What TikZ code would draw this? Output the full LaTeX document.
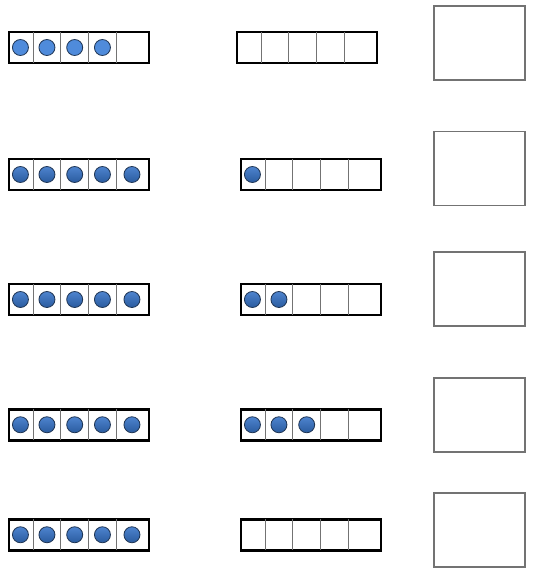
\documentclass[tikz,border=0pt]{standalone}
\usepackage{xcolor}
\usepackage{tikz}
\usetikzlibrary{shapes,positioning,shadows}

\definecolor{counterflat}{HTML}{4F8BDB}
\definecolor{countertop}{HTML}{4E84CF}
\definecolor{counterbot}{HTML}{2A5B9E}
\definecolor{counterline}{HTML}{1F3554}

\begin{document}
\begin{tikzpicture}[
    x=1pt, y=-1pt,
    frame/.style={rectangle, draw=black, line width=2.6pt, fill=white, minimum width=140pt, minimum height=31pt, inner sep=0pt},
    cellline/.style={draw=black!55, line width=0.9pt, shorten <=1.3pt, shorten >=1.3pt},
    dot/.style={circle, draw=counterline, line width=0.8pt, minimum size=16pt, inner sep=0pt},
    counter/.style={dot, top color=countertop, bottom color=counterbot},
    flatcounter/.style={dot, fill=counterflat},
    answerbox/.style={rectangle, draw=black!55, line width=1.2pt, fill=white, minimum width=91pt, minimum height=74pt, inner sep=0pt, drop shadow={opacity=0.12, shadow xshift=0.6pt, shadow yshift=-0.8pt}}
]
    \useasboundingbox (0,0) rectangle (535,573);

    % Ten frames, left column
    \node[frame] (left1) at (79,47.5) {};
    \node[frame] (left2) at (79,174.5) {};
    \node[frame] (left3) at (79,299.5) {};
    \node[frame] (left4) at (79,424.75) {};
    \node[frame] (left5) at (79,534.75) {};

    % Ten frames, middle column
    \node[frame] (mid1) at (307,47.5) {};
    \node[frame] (mid2) at (311,174.5) {};
    \node[frame] (mid3) at (311,299.5) {};
    \node[frame] (mid4) at (311,424.75) {};
    \node[frame] (mid5) at (311,534.75) {};

    % Cell dividers
    \foreach \f in {left1,left2,left3,left4,left5,mid1,mid2,mid3,mid4,mid5}
        \foreach \d in {25.5,53,81,108.5}
            \draw[cellline] ([xshift=\d pt]\f.north west) -- ([xshift=\d pt]\f.south west);

    % Counters, left column
    \foreach \x [count=\i] in {12.75,39.25,67,94.75}
        \node[flatcounter] (l1c\i) at ([xshift=\x pt]left1.west) {};
    \foreach \x [count=\i] in {12.75,39.25,67,94.75,124.25} {
        \node[counter] (l2c\i) at ([xshift=\x pt]left2.west) {};
        \node[counter] (l3c\i) at ([xshift=\x pt]left3.west) {};
        \node[counter] (l4c\i) at ([xshift=\x pt]left4.west) {};
        \node[counter] (l5c\i) at ([xshift=\x pt]left5.west) {};
    }

    % Counters, middle column
    \node[counter] (m2c1) at ([xshift=12.75pt]mid2.west) {};
    \node[counter] (m3c1) at ([xshift=12.75pt]mid3.west) {};
    \node[counter] (m3c2) at ([xshift=39.25pt]mid3.west) {};
    \node[counter] (m4c1) at ([xshift=12.75pt]mid4.west) {};
    \node[counter] (m4c2) at ([xshift=39.25pt]mid4.west) {};
    \node[counter] (m4c3) at ([xshift=67pt]mid4.west) {};

    % Answer boxes
    \node[answerbox] (box1) at (479.5,43) {};
    \node[answerbox] (box2) at (479.5,168.5) {};
    \node[answerbox] (box3) at (479.5,289) {};
    \node[answerbox] (box4) at (479.5,415) {};
    \node[answerbox] (box5) at (479.5,530) {};
\end{tikzpicture}
\end{document}
